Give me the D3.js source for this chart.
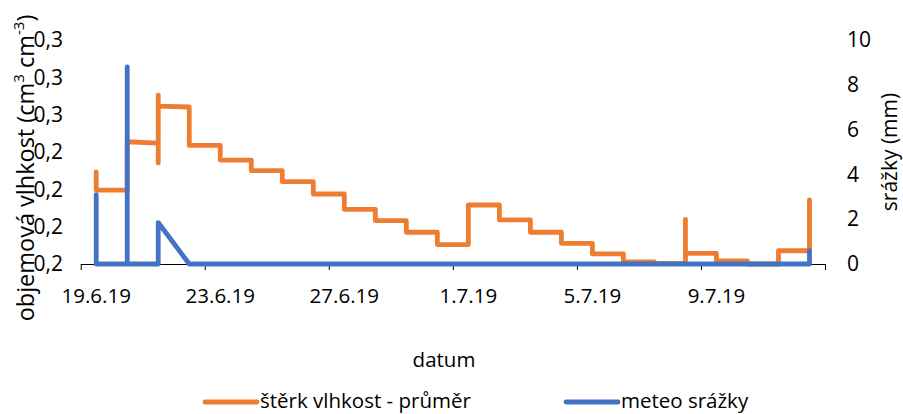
<!DOCTYPE html>
<html>
<head>
<meta charset="utf-8">
<script src="https://cdn.jsdelivr.net/npm/d3@7/dist/d3.min.js"></script>
<style>
  body { margin: 0; background: #fff; }
  text { font-family: "Open Sans", sans-serif; fill: #000; }
</style>
</head>
<body>
<div id="chart"></div>
<script>
// one entry per day, values measured within that day are plotted at the same x
const dates = ["2019-06-19","2019-06-20","2019-06-21","2019-06-22","2019-06-23","2019-06-24",
  "2019-06-25","2019-06-26","2019-06-27","2019-06-28","2019-06-29","2019-06-30",
  "2019-07-01","2019-07-02","2019-07-03","2019-07-04","2019-07-05","2019-07-06",
  "2019-07-07","2019-07-08","2019-07-09","2019-07-10","2019-07-11","2019-07-12"];

// štěrk vlhkost - průměr (cm3 cm-3)
const moisture = [
  [0.2196, 0.2294, 0.2196], [0.2196, 0.2455], [0.2448, 0.2341, 0.2705, 0.2646],
  [0.2641, 0.2435], [0.2435, 0.2357], [0.2357, 0.2300], [0.2300, 0.2241],
  [0.2241, 0.2175], [0.2175, 0.2093], [0.2093, 0.2032], [0.2032, 0.1970],
  [0.1970, 0.1904], [0.1904, 0.2116], [0.2116, 0.2036], [0.2036, 0.1970],
  [0.1970, 0.1911], [0.1911, 0.1854], [0.1854, 0.1811], [0.1811, 0.1803],
  [0.1803, 0.2039, 0.1857], [0.1857, 0.1816], [0.1816, 0.1800], [0.1800, 0.1871],
  [0.1871, 0.2143]
];

// meteo srážky (mm)
const rain = [
  [3.1, 0], [0, 8.8, 0], [0, 1.85], [0], [0], [0], [0], [0], [0], [0], [0], [0],
  [0], [0], [0], [0], [0], [0], [0], [0], [0], [0], [0], [0, 0.6]
];

const xTickDates = ["2019-06-19","2019-06-23","2019-06-27","2019-07-01","2019-07-05","2019-07-09","2019-07-13"];
const leftTicks = [0.18, 0.20, 0.22, 0.24, 0.26, 0.28, 0.30];
const rightTicks = [0, 2, 4, 6, 8, 10];

const width = 903, height = 414;
const margin = { left: 80.7, right: 78, top: 40, bottom: 150 };
const parse = d3.timeParse("%Y-%m-%d");
const fmt = d3.timeFormat("%-d.%-m.%y");

const svg = d3.select("#chart").append("svg")
  .attr("width", width)
  .attr("height", height);

const x = d3.scaleTime()
  .domain([parse("2019-06-19"), parse("2019-07-13")])
  .range([margin.left, width - margin.right]);
const yL = d3.scaleLinear().domain([0.18, 0.30]).range([264, 40]);
const yR = d3.scaleLinear().domain([0, 10]).range([264, 40]);

const mid = d => d3.timeHour.offset(parse(d), 12);

function flatten(byDay) {
  const pts = [];
  byDay.forEach((vals, i) => vals.forEach(v => pts.push({ date: mid(dates[i]), v })));
  return pts;
}

// x axis: ticks on day boundaries, labels in the middle of the day
const xAxis = svg.append("g")
  .attr("transform", "translate(0,264)")
  .call(d3.axisBottom(x)
    .tickValues(xTickDates.map(parse))
    .tickFormat("")
    .tickSize(6)
    .tickSizeOuter(0));
xAxis.select(".domain").attr("stroke", "#000");
xAxis.selectAll(".tick line").attr("stroke", "#000");

svg.selectAll(".xlab")
  .data(xTickDates.slice(0, -1))
  .enter().append("text")
  .attr("class", "xlab")
  .attr("x", d => x(mid(d)))
  .attr("y", 303)
  .attr("text-anchor", "middle")
  .style("font-size", "20.5px")
  .text(d => fmt(parse(d)));

const left = svg.append("g")
  .attr("transform", "translate(66,0)")
  .call(d3.axisLeft(yL)
    .tickValues(leftTicks)
    .tickSize(0)
    .tickPadding(3)
    .tickFormat(d => d3.format(".1f")(d).replace(".", ",")));
left.select(".domain").remove();
left.selectAll("text").style("font-size", "21px").attr("fill", "#000");

const right = svg.append("g")
  .attr("transform", "translate(844,0)")
  .call(d3.axisRight(yR)
    .tickValues(rightTicks)
    .tickSize(0)
    .tickPadding(3));
right.select(".domain").remove();
right.selectAll("text").style("font-size", "21px").attr("fill", "#000");

// series
const moistLine = d3.line().x(d => x(d.date)).y(d => yL(d.v));
const rainLine = d3.line().x(d => x(d.date)).y(d => yR(d.v));

svg.append("path")
  .datum(flatten(moisture))
  .attr("fill", "none")
  .attr("stroke", "#ED7D31")
  .attr("stroke-width", 4.8)
  .attr("stroke-linejoin", "round")
  .attr("stroke-linecap", "round")
  .attr("d", moistLine);

svg.append("path")
  .datum(flatten(rain))
  .attr("fill", "none")
  .attr("stroke", "#4472C4")
  .attr("stroke-width", 4.8)
  .attr("stroke-linejoin", "round")
  .attr("stroke-linecap", "round")
  .attr("d", rainLine);

// axis titles
const lt = svg.append("text")
  .attr("transform", "translate(34,168) rotate(-90)")
  .attr("text-anchor", "middle")
  .style("font-size", "23.5px");
lt.append("tspan").text("objemová vlhkost (cm");
lt.append("tspan").attr("baseline-shift", "super").style("font-size", "15px").text("3");
lt.append("tspan").text(" cm");
lt.append("tspan").attr("baseline-shift", "super").style("font-size", "15px").text("-3");
lt.append("tspan").text(")");

svg.append("text")
  .attr("transform", "translate(897,152) rotate(-90)")
  .attr("text-anchor", "middle")
  .style("font-size", "21px")
  .text("srážky (mm)");

svg.append("text")
  .attr("x", 444)
  .attr("y", 367)
  .attr("text-anchor", "middle")
  .style("font-size", "20.5px")
  .text("datum");

// legend
const legendItems = [
  { name: "štěrk vlhkost - průměr", color: "#ED7D31", x: 205 },
  { name: "meteo srážky", color: "#4472C4", x: 566 }
];
const lg = svg.selectAll(".legend")
  .data(legendItems)
  .enter().append("g")
  .attr("class", "legend")
  .attr("transform", d => `translate(${d.x},402)`);
lg.append("line")
  .attr("x1", 0).attr("x2", 52)
  .attr("stroke", d => d.color)
  .attr("stroke-width", 4.8)
  .attr("stroke-linecap", "round");
lg.append("text")
  .attr("x", 55)
  .attr("y", 6)
  .style("font-size", "20.5px")
  .text(d => d.name);
</script>
</body>
</html>
